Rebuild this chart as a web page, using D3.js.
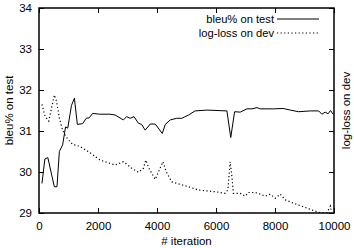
<!DOCTYPE html>
<html>
<head>
<meta charset="utf-8">
<script src="https://cdn.jsdelivr.net/npm/d3@7"></script>
<style>
  body { margin: 0; background: #fff; }
  text { font-family: "Liberation Sans", Arial, sans-serif; fill: #000; }
</style>
</head>
<body>
<div id="chart"></div>
<script>
// bleu% on test
const bleuIter = [100, 200, 300, 520, 610, 690, 800, 900, 975, 1100, 1200, 1300, 1480, 1600, 1700, 1820, 2050,
  2400, 2580, 2860, 2970, 3090, 3220, 3370, 3480, 3600, 3770, 3940, 4180, 4280, 4450, 4670, 4840, 5070,
  5290, 5690, 6370, 6500, 6630, 6820, 7050, 7220, 7390, 7500, 7950, 8270, 8520, 8800, 9200, 9480, 9590,
  9700, 9800, 9880, 9970];
const bleuVal = [29.72, 30.32, 30.35, 29.64, 29.64, 30.50, 30.66, 31.10, 31.07, 31.62, 31.80, 31.16, 31.18, 31.31, 31.32, 31.43, 31.41,
  31.41, 31.39, 31.27, 31.35, 31.31, 31.35, 31.19, 31.16, 31.02, 31.17, 31.17, 30.94, 31.16, 31.27, 31.31, 31.31, 31.39,
  31.49, 31.51, 31.49, 30.84, 31.47, 31.46, 31.54, 31.54, 31.57, 31.54, 31.54, 31.55, 31.51, 31.47, 31.49, 31.49, 31.41,
  31.46, 31.42, 31.50, 31.41];

// log-loss on dev (right axis, no tick labels)
const lossIter = [100, 210, 330, 520, 600, 690, 800, 915, 1140, 1370, 1710, 2070, 2580, 2860, 3150, 3370, 3540, 3620,
  3730, 3940, 4080, 4200, 4310, 4500, 4780, 5070, 5400, 5970, 6310, 6400, 6480, 6540, 6590, 6820, 6990, 7100,
  7330, 7500, 7670, 7840, 8010, 8180, 8350, 8630, 8970, 9310, 9530, 9760, 9880, 9910];
const lossVal = [31.65, 31.35, 31.24, 31.88, 31.71, 31.31, 31.02, 30.86, 30.67, 30.63, 30.48, 30.29, 30.17, 30.25, 30.09, 29.99, 30.09, 30.29,
  30.09, 29.82, 30.05, 30.25, 30.01, 29.76, 29.70, 29.64, 29.56, 29.52, 29.48, 29.56, 30.25, 29.88, 29.48, 29.48, 29.41, 29.50,
  29.50, 29.46, 29.41, 29.46, 29.36, 29.46, 29.32, 29.24, 29.15, 29.06, 29.01, 29.01, 29.17, 29.03];

const xTicks = [0, 2000, 4000, 6000, 8000, 10000];
const yTicks = [29, 30, 31, 32, 33, 34];

const W = 354, H = 248;
const margin = { top: 8, right: 20, bottom: 35, left: 39 };
const w = W - margin.left - margin.right;
const h = H - margin.top - margin.bottom;

const svg = d3.select('#chart').append('svg')
  .attr('width', W).attr('height', H);
const g = svg.append('g').attr('transform', `translate(${margin.left},${margin.top})`);

const x = d3.scaleLinear().domain([0, 10000]).range([0, w]);
const y = d3.scaleLinear().domain([29, 34]).range([h, 0]);
const y2 = d3.scaleLinear().domain([29, 34]).range([h, 0]);

g.append('clipPath').attr('id', 'clip')
  .append('rect').attr('width', w).attr('height', h);

// axes: ticks inward, labels only bottom/left
g.append('g').attr('transform', `translate(0,${h})`)
  .call(d3.axisBottom(x).tickValues(xTicks).tickSizeInner(-5).tickSizeOuter(0).tickPadding(9).tickFormat(d3.format('d')));
g.append('g')
  .call(d3.axisTop(x).tickValues(xTicks).tickSizeInner(-5).tickSizeOuter(0).tickFormat(''));
g.append('g')
  .call(d3.axisLeft(y).tickValues(yTicks).tickSizeInner(-5).tickSizeOuter(0).tickPadding(7).tickFormat(d3.format('d')));
g.append('g').attr('transform', `translate(${w},0)`)
  .call(d3.axisRight(y2).tickValues(yTicks).tickSizeInner(-5).tickSizeOuter(0).tickFormat(''));

g.selectAll('.domain').remove();
g.selectAll('.tick line').attr('stroke', '#000').attr('stroke-width', 1);
g.selectAll('.tick text').style('font-size', '11.5px').attr('fill', '#000');

g.append('rect').attr('width', w).attr('height', h)
  .attr('fill', 'none').attr('stroke', '#000').attr('stroke-width', 1.5);

const lineBleu = d3.line().x((d, i) => x(bleuIter[i])).y(d => y(d));
const lineLoss = d3.line().x((d, i) => x(lossIter[i])).y(d => y2(d));

const plot = g.append('g').attr('clip-path', 'url(#clip)');
plot.append('path').datum(bleuVal).attr('d', lineBleu)
  .attr('fill', 'none').attr('stroke', '#000').attr('stroke-width', 1);
plot.append('path').datum(lossVal).attr('d', lineLoss)
  .attr('fill', 'none').attr('stroke', '#000').attr('stroke-width', 1.2)
  .attr('stroke-dasharray', '1.2,2.4');

// legend
const legend = g.append('g');
const rows = [{ name: 'bleu% on test', dash: null }, { name: 'log-loss on dev', dash: '1.2,2.4' }];
rows.forEach((r, i) => {
  const ly = 11 + i * 14;
  legend.append('text').attr('x', 235).attr('y', ly).attr('dy', '0.35em')
    .attr('text-anchor', 'end').style('font-size', '11.2px').text(r.name);
  legend.append('line').attr('x1', 238).attr('x2', 280).attr('y1', ly).attr('y2', ly)
    .attr('stroke', '#000').attr('stroke-width', r.dash ? 1.2 : 1)
    .attr('stroke-dasharray', r.dash);
});

// axis titles
svg.append('text').attr('x', margin.left + w / 2).attr('y', 245)
  .attr('text-anchor', 'middle').style('font-size', '11.5px').text('# iteration');
svg.append('text').attr('transform', `translate(9,${margin.top + h / 2}) rotate(-90)`)
  .attr('text-anchor', 'middle').attr('dy', '0.35em').style('font-size', '11.5px').text('bleu% on test');
svg.append('text').attr('transform', `translate(346,${margin.top + h / 2}) rotate(-90)`)
  .attr('text-anchor', 'middle').attr('dy', '0.35em').style('font-size', '11.5px').text('log-loss on dev');
</script>
</body>
</html>
